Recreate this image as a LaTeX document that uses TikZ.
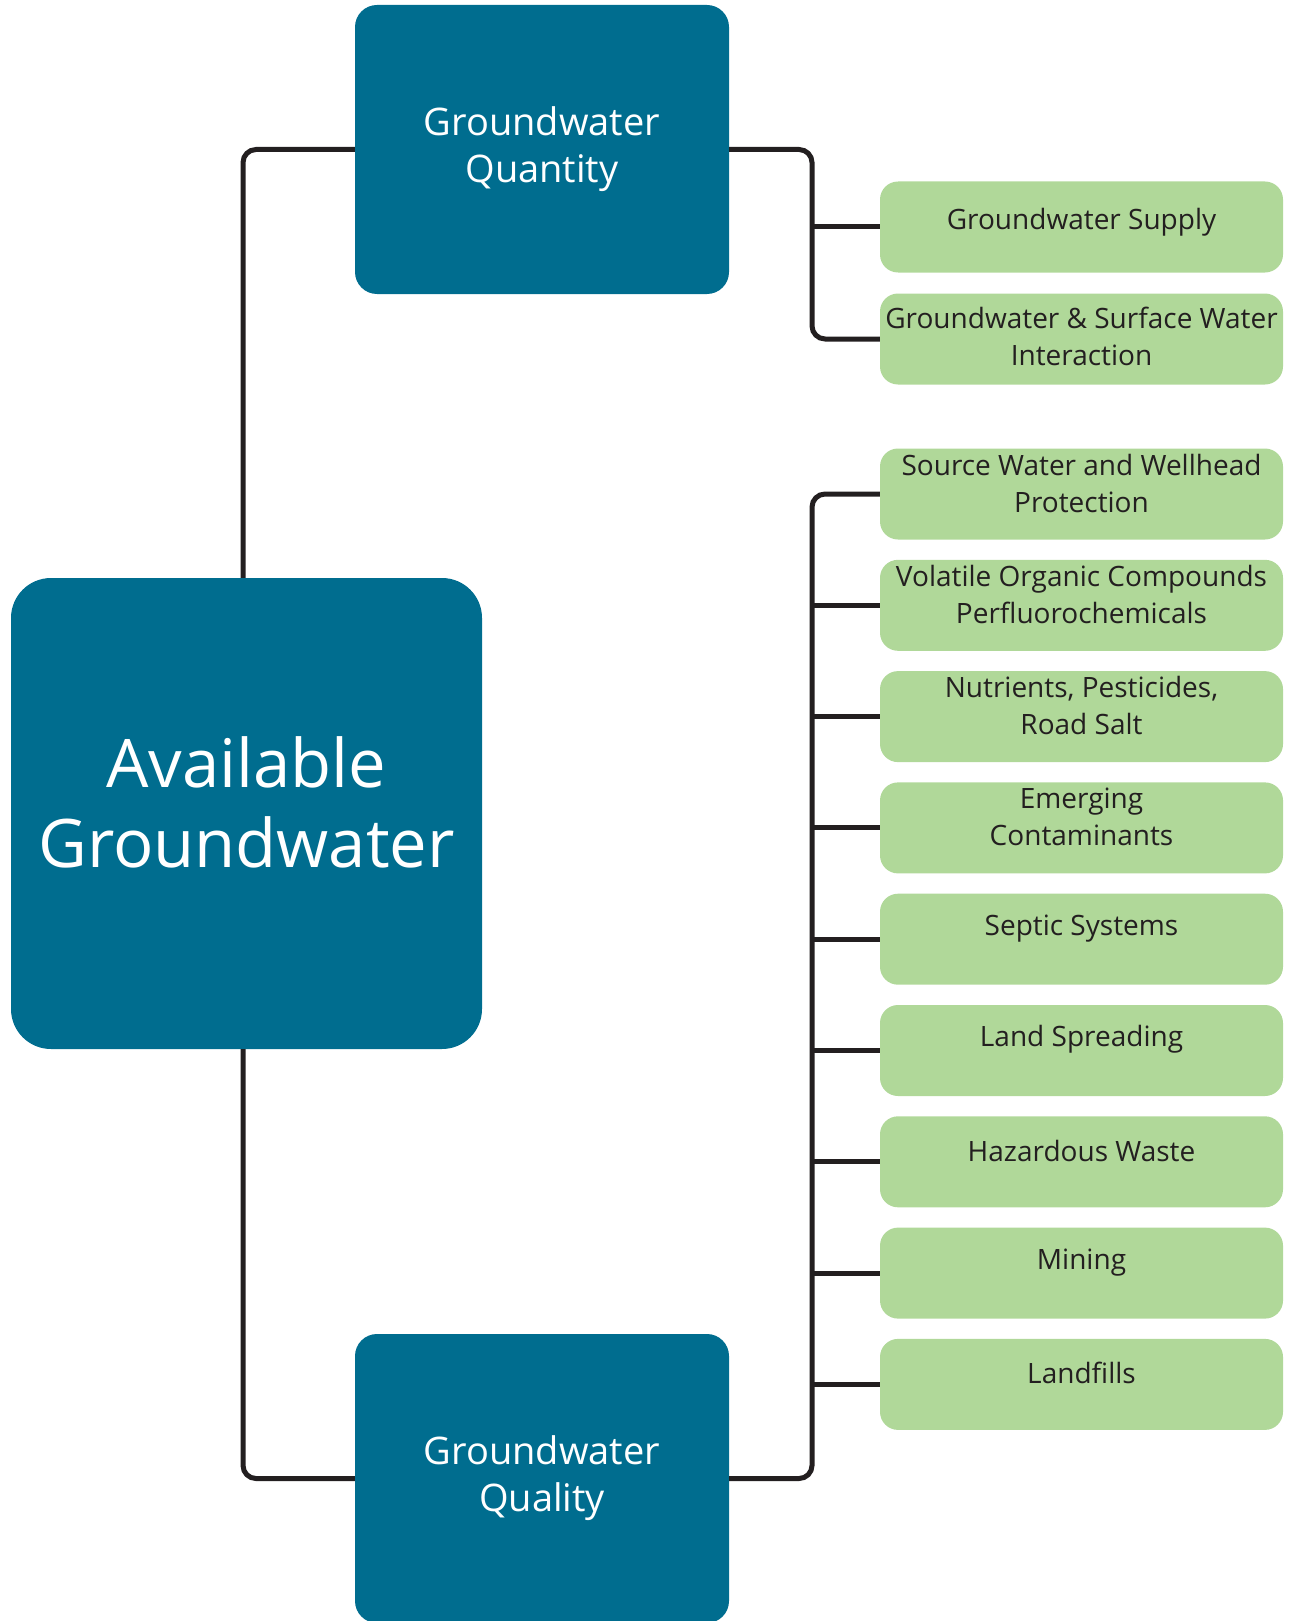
\documentclass[tikz,border=0pt]{standalone}
\usepackage{fontspec}
\setmainfont{Open Sans}
\usetikzlibrary{positioning}

\definecolor{gwblue}{RGB}{0,109,143}
\definecolor{gwgreen}{RGB}{176,216,153}
\definecolor{gwline}{RGB}{35,31,32}

\tikzset{
    mainbox/.style={fill=gwblue, rounded corners=40pt, minimum width=471pt, minimum height=471pt, inner sep=0pt},
    mainlabel/.style={text=white, align=center, inner sep=0pt, font=\fontsize{67}{80}\selectfont},
    topicbox/.style={fill=gwblue, rounded corners=22pt, minimum width=374pt, minimum height=289pt, inner sep=0pt,
        text=white, align=center, font=\fontsize{38}{47}\selectfont},
    leafbox/.style={fill=gwgreen, rounded corners=18pt, minimum width=403pt, minimum height=91pt, inner sep=0pt},
    leaflabel/.style={text=gwline, align=center, inner sep=0pt, font=\fontsize{28}{37}\selectfont},
    link/.style={draw=gwline, line width=5pt},
}

\begin{document}
\begin{tikzpicture}[x=1pt, y=-1pt]
    \useasboundingbox (0,0) rectangle (1291,1621);

    % Main boxes
    \node[mainbox] (avail) at (246.5,813.5) {};
    \node[mainlabel] at ([yshift=11pt]avail.center) {Available\\Groundwater};
    \node[topicbox] (quant) at (542,149.5) {Groundwater\\Quantity};
    \node[topicbox] (qual) at (542,1478.5) {Groundwater\\Quality};

    % Quantity topics
    \node[leafbox] (supply) at (1081.5,227) {};
    \node[leaflabel] at ([yshift=5pt]supply.center) {Groundwater Supply};
    \node[leafbox] (inter) at (1081.5,339) {};
    \node[leaflabel] at ([yshift=3pt]inter.center) {Groundwater \& Surface Water\\Interaction};

    % Quality topics
    \foreach \y/\name/\txt in {
        494/src/{Source Water and Wellhead\\Protection},
        605.3/voc/{Volatile Organic Compounds\\Perfluorochemicals},
        716.6/nutr/{Nutrients, Pesticides,\\Road Salt},
        827.9/emerg/{Emerging\\Contaminants},
        939.2/septic/{Septic Systems},
        1050.5/land/{Land Spreading},
        1161.8/hazard/{Hazardous Waste},
        1273.1/mining/{Mining},
        1384.4/landfill/{Landfills}} {
        \node[leafbox] (\name) at (1081.5,\y) {};
        \node[leaflabel] at ([yshift=11pt]\name.center) {\txt};
    }

    \coordinate (trunk) at (812,0);
    \coordinate (stem) at (243,0);

    % Connectors
    \draw[link, rounded corners=13pt] (avail.north -| stem) |- (quant.west);
    \draw[link, rounded corners=13pt] (avail.south -| stem) |- (qual.west);
    \draw[link] (quant.east) [rounded corners=13pt] -| (inter.west -| trunk) [sharp corners] -- (inter.west);
    \draw[link] (supply.west -| trunk) -- (supply.west);
    \draw[link] (qual.east) [rounded corners=13pt] -| (src.west -| trunk) [sharp corners] -- (src.west);
    \foreach \name in {voc,nutr,emerg,septic,land,hazard,mining,landfill}
        \draw[link] (\name.west -| trunk) -- (\name.west);
\end{tikzpicture}
\end{document}
